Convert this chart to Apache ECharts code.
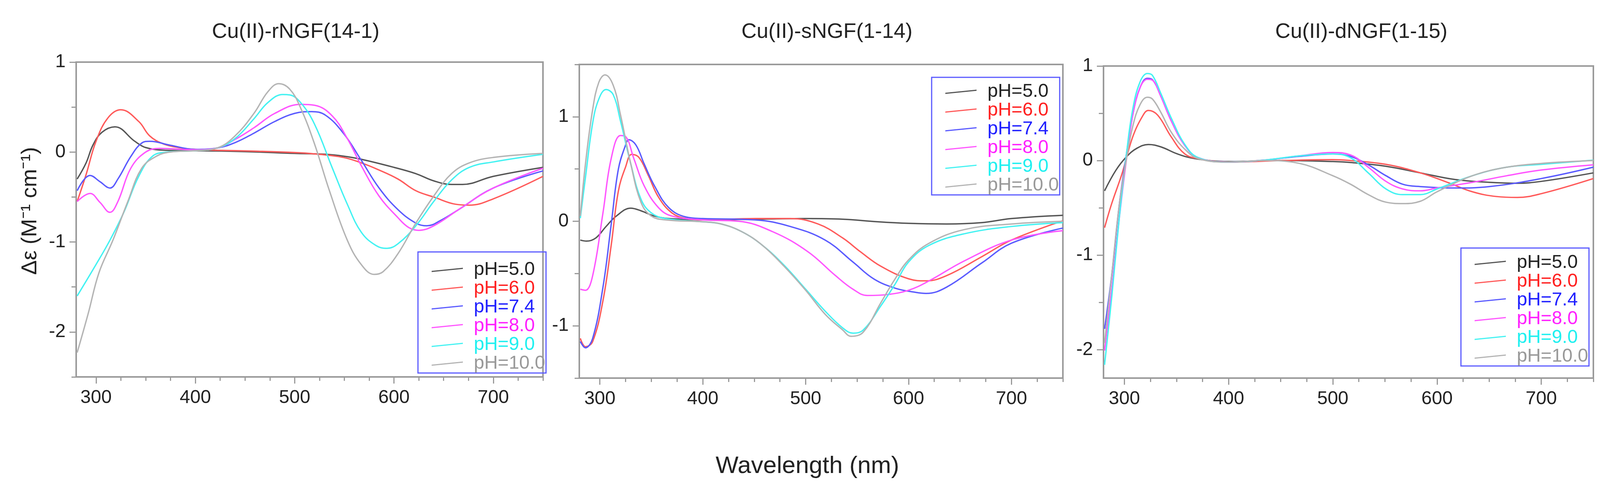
<!DOCTYPE html>
<html>
<head>
<meta charset="utf-8">
<script src="https://cdn.jsdelivr.net/npm/echarts@6.0.0/dist/echarts.min.js"></script>
<style>
html, body { margin: 0; padding: 0; background: #fff; }
#main { width: 4139px; height: 1275px; }
</style>
</head>
<body>
<div id="main"></div>
<script>
// 数据：三组 CD 光谱 (Δε vs 波长)
var phNames = ['pH=5.0', 'pH=6.0', 'pH=7.4', 'pH=8.0', 'pH=9.0', 'pH=10.0'];
var panelTitles = ['Cu(II)-rNGF(14-1)', 'Cu(II)-sNGF(1-14)', 'Cu(II)-dNGF(1-15)'];

var xLabelValues = [300, 400, 500, 600, 700];
var xTickValues = [300, 325, 350, 375, 400, 425, 450, 475, 500, 525, 550, 575, 600, 625, 650, 675, 700, 725, 750];

// rNGF(14-1)
var rNGF_50 = [[281,-0.30],[290,-0.12],[297,0.08],[306,0.22],[319,0.28],[339,0.12],[350,0.05],[370,0.02],[400,0.015],[450,0.005],[500,-0.015],[531,-0.025],[549,-0.045],[567,-0.08],[600,-0.17],[622,-0.24],[640,-0.32],[658,-0.36],[669,-0.36],[700,-0.27],[750,-0.17]];
var rNGF_60 = [[281,-0.55],[290,-0.25],[300,0.12],[312,0.38],[325,0.47],[343,0.34],[354,0.18],[368,0.09],[386,0.045],[400,0.03],[422,0.02],[460,0.01],[500,-0.005],[520,-0.02],[549,-0.06],[567,-0.12],[585,-0.20],[604,-0.30],[622,-0.43],[640,-0.50],[662,-0.58],[676,-0.59],[700,-0.52],[750,-0.27]];
var rNGF_74 = [[281,-0.43],[294,-0.26],[304,-0.33],[314,-0.40],[322,-0.30],[335,-0.05],[346,0.10],[354,0.12],[375,0.075],[400,0.03],[422,0.045],[440,0.105],[459,0.21],[480,0.34],[500,0.43],[517,0.45],[531,0.41],[549,0.21],[567,-0.09],[585,-0.40],[604,-0.64],[622,-0.79],[633,-0.82],[647,-0.76],[665,-0.64],[700,-0.40],[750,-0.21]];
var rNGF_80 = [[281,-0.55],[294,-0.46],[304,-0.56],[314,-0.67],[322,-0.55],[335,-0.18],[350,0.0],[364,0.04],[400,0.025],[422,0.045],[440,0.14],[459,0.27],[480,0.43],[506,0.53],[520,0.52],[538,0.40],[553,0.15],[567,-0.15],[585,-0.49],[604,-0.73],[615,-0.84],[625,-0.87],[640,-0.82],[665,-0.64],[700,-0.40],[750,-0.18]];
var rNGF_90 = [[281,-1.60],[300,-1.25],[314,-0.98],[328,-0.67],[343,-0.27],[357,-0.045],[372,0.0],[400,0.015],[422,0.045],[440,0.15],[459,0.37],[473,0.55],[488,0.64],[495,0.635],[506,0.55],[520,0.31],[538,-0.18],[553,-0.58],[567,-0.89],[582,-1.04],[593,-1.07],[604,-1.02],[622,-0.82],[640,-0.55],[658,-0.31],[676,-0.17],[700,-0.11],[750,-0.025]];
var rNGF_100 = [[281,-2.23],[292,-1.80],[303,-1.34],[317,-0.98],[332,-0.55],[346,-0.18],[361,-0.045],[375,0.0],[400,0.015],[422,0.045],[440,0.18],[459,0.43],[473,0.67],[484,0.76],[495,0.70],[506,0.49],[520,0.09],[535,-0.43],[553,-0.98],[567,-1.25],[580,-1.36],[589,-1.33],[604,-1.13],[622,-0.79],[640,-0.49],[658,-0.24],[676,-0.12],[700,-0.06],[750,-0.015]];

// sNGF(1-14)
var sNGF_50 = [[281,-0.18],[287,-0.19],[296,-0.16],[306,-0.05],[316,0.05],[330,0.125],[340,0.10],[353,0.05],[367,0.026],[400,0.013],[451,0.02],[500,0.026],[536,0.02],[570,-0.005],[600,-0.02],[637,-0.026],[671,-0.013],[700,0.026],[750,0.057]];
var sNGF_60 = [[281,-1.12],[286,-1.20],[293,-1.15],[303,-0.76],[311,-0.23],[318,0.29],[325,0.52],[331,0.64],[338,0.61],[347,0.44],[357,0.23],[370,0.08],[384,0.026],[400,0.013],[451,0.026],[485,0.026],[512,-0.026],[536,-0.16],[553,-0.29],[573,-0.43],[600,-0.55],[617,-0.57],[637,-0.52],[671,-0.34],[700,-0.18],[750,0.005]];
var sNGF_74 = [[281,-1.15],[286,-1.21],[293,-1.12],[303,-0.63],[311,-0.03],[318,0.50],[325,0.73],[328,0.78],[335,0.73],[343,0.55],[353,0.34],[367,0.13],[384,0.04],[400,0.026],[451,0.013],[485,-0.05],[519,-0.18],[546,-0.39],[566,-0.55],[587,-0.64],[607,-0.68],[617,-0.69],[637,-0.63],[671,-0.40],[700,-0.21],[750,-0.065]];
var sNGF_80 = [[281,-0.65],[286,-0.66],[293,-0.52],[303,0.08],[311,0.60],[320,0.82],[325,0.81],[333,0.60],[343,0.34],[357,0.13],[370,0.05],[400,0.013],[435,0.0],[468,-0.10],[502,-0.29],[529,-0.52],[546,-0.65],[560,-0.71],[580,-0.70],[600,-0.66],[620,-0.57],[654,-0.38],[700,-0.18],[750,-0.09]];
var sNGF_90 = [[281,0.03],[286,0.42],[293,0.94],[299,1.17],[306,1.26],[313,1.21],[320,0.96],[330,0.55],[340,0.21],[350,0.08],[364,0.026],[400,-0.005],[418,-0.026],[438,-0.10],[458,-0.23],[479,-0.42],[500,-0.65],[519,-0.86],[536,-1.02],[546,-1.07],[556,-1.04],[573,-0.81],[587,-0.60],[600,-0.39],[620,-0.23],[654,-0.12],[700,-0.05],[750,-0.013]];
var sNGF_100 = [[281,0.05],[286,0.55],[293,1.07],[299,1.33],[305,1.40],[313,1.30],[320,1.02],[330,0.55],[340,0.18],[350,0.05],[364,0.013],[400,-0.005],[418,-0.026],[438,-0.10],[458,-0.23],[479,-0.43],[500,-0.66],[519,-0.89],[536,-1.04],[544,-1.10],[556,-1.06],[573,-0.78],[587,-0.55],[600,-0.37],[620,-0.21],[654,-0.08],[700,-0.026],[750,0.0]];

// dNGF(1-15)
var dNGF_50 = [[281,-0.32],[292,-0.10],[302,0.04],[312,0.13],[323,0.17],[335,0.145],[351,0.07],[368,0.02],[400,-0.01],[451,0.0],[500,-0.01],[517,-0.02],[551,-0.06],[584,-0.13],[617,-0.20],[650,-0.23],[677,-0.24],[700,-0.22],[750,-0.13]];
var dNGF_60 = [[281,-0.71],[288,-0.45],[298,-0.13],[308,0.25],[318,0.48],[323,0.53],[332,0.48],[345,0.25],[358,0.07],[371,0.02],[400,-0.015],[451,0.0],[500,0.01],[517,0.0],[551,-0.04],[584,-0.13],[610,-0.23],[634,-0.33],[657,-0.38],[677,-0.39],[700,-0.35],[750,-0.19]];
var dNGF_74 = [[281,-1.78],[288,-1.20],[295,-0.48],[302,0.07],[308,0.48],[315,0.77],[322,0.87],[327,0.855],[335,0.68],[345,0.42],[358,0.16],[371,0.03],[400,-0.015],[434,0.005],[468,0.045],[500,0.07],[517,0.045],[534,-0.045],[551,-0.16],[567,-0.25],[584,-0.275],[617,-0.29],[650,-0.275],[700,-0.19],[750,-0.07]];
var dNGF_80 = [[281,-2.01],[288,-1.35],[295,-0.62],[302,0.015],[308,0.48],[315,0.77],[322,0.86],[327,0.85],[335,0.68],[345,0.42],[358,0.16],[371,0.03],[400,-0.015],[434,0.005],[468,0.05],[500,0.085],[517,0.06],[534,-0.07],[551,-0.22],[567,-0.30],[584,-0.32],[600,-0.29],[634,-0.23],[667,-0.16],[700,-0.10],[750,-0.045]];
var dNGF_90 = [[281,-2.16],[288,-1.43],[295,-0.62],[302,0.07],[308,0.54],[315,0.83],[322,0.92],[327,0.90],[335,0.71],[345,0.45],[358,0.17],[371,0.03],[400,-0.015],[434,0.005],[468,0.05],[500,0.07],[517,0.03],[534,-0.13],[551,-0.30],[567,-0.36],[584,-0.36],[600,-0.30],[634,-0.16],[667,-0.07],[700,-0.04],[750,0.005]];
var dNGF_100 = [[281,-1.93],[288,-1.20],[295,-0.48],[302,0.015],[308,0.36],[315,0.59],[322,0.67],[327,0.65],[335,0.51],[345,0.30],[358,0.12],[371,0.02],[400,-0.015],[434,0.0],[468,-0.03],[500,-0.16],[517,-0.25],[534,-0.36],[551,-0.44],[567,-0.455],[584,-0.43],[600,-0.33],[634,-0.16],[667,-0.07],[700,-0.03],[750,0.0]];

var yRanges = [[-2.5, 1], [-1.5, 1.5], [-2.3, 1]];
var yLabelValues = [[-2, -1, 0, 1], [-1, 0, 1], [-2, -1, 0, 1]];
var yTickValues = [
    [-2.5, -2, -1.5, -1, -0.5, 0, 0.5, 1],
    [-1.5, -1, -0.5, 0, 0.5, 1, 1.5],
    [-2, -1.5, -1, -0.5, 0, 0.5, 1]
];

var panelData = [
    [rNGF_50, rNGF_60, rNGF_74, rNGF_80, rNGF_90, rNGF_100],
    [sNGF_50, sNGF_60, sNGF_74, sNGF_80, sNGF_90, sNGF_100],
    [dNGF_50, dNGF_60, dNGF_74, dNGF_80, dNGF_90, dNGF_100]
];

// 样式
var FONT = '"Liberation Sans", Arial, Helvetica, sans-serif';
var lineColors = ['#555555', '#ff5a5a', '#5a5aff', '#ff55ff', '#44f2f2', '#b4b4b4'];
var textColors = ['#222222', '#ff2020', '#2020ff', '#ff20ff', '#20f0f0', '#999999'];
var axisGray = '#9a9a9a';

var grids = [
    {left: 195, top: 159, width: 1195, height: 806},
    {left: 1483, top: 165, width: 1238, height: 803},
    {left: 2825, top: 169, width: 1254, height: 799}
];
var legendPos = [
    {left: 1070, top: 645, padding: [22, 2, 0, 35]},
    {left: 2385, top: 198, padding: [13, 2, 0, 35]},
    {left: 3740, top: 635, padding: [14, 2, 0, 35]}
];
var titleCenters = [752, 2112, 3480];

var myChart = echarts.init(document.getElementById('main'));

var option = {
    animation: false,
    backgroundColor: '#ffffff',
    textStyle: {fontFamily: FONT},
    title: [],
    grid: [],
    xAxis: [],
    yAxis: [],
    legend: [],
    series: [],
    graphic: [
        {
            type: 'text',
            x: 78, y: 540,
            rotation: Math.PI / 2,
            style: {
                text: 'Δε (M⁻¹ cm⁻¹)',
                fontSize: 56, fontFamily: FONT, fill: '#222',
                textAlign: 'center', textVerticalAlign: 'middle'
            }
        },
        {
            type: 'text',
            x: 2067, y: 1194,
            style: {
                text: 'Wavelength (nm)',
                fontSize: 62, fontFamily: FONT, fill: '#222',
                textAlign: 'center', textVerticalAlign: 'middle'
            }
        }
    ]
};

var legendItems = phNames.map(function (n, k) {
    return {name: n, textStyle: {color: textColors[k]}};
});

for (var i = 0; i < 3; i++) {
    var g = grids[i];
    option.grid.push({
        left: g.left, top: g.top, width: g.width, height: g.height,
        show: true, borderColor: axisGray, borderWidth: 4, backgroundColor: 'transparent'
    });
    option.title.push({
        text: panelTitles[i],
        left: titleCenters[i], top: 50,
        textAlign: 'center',
        textStyle: {fontSize: 54, fontWeight: 'normal', color: '#222', fontFamily: FONT}
    });
    // 主刻度 + 标签
    option.xAxis.push({
        type: 'value', gridIndex: i, min: 280, max: 750, position: 'bottom',
        axisLine: {onZero: false, lineStyle: {color: axisGray, width: 4}},
        axisTick: {customValues: xLabelValues, length: 17, lineStyle: {color: axisGray, width: 3}},
        axisLabel: {customValues: xLabelValues, fontSize: 48, margin: 30, color: '#222', fontFamily: FONT},
        splitLine: {show: false}
    });
    // 次刻度
    option.xAxis.push({
        type: 'value', gridIndex: i, min: 280, max: 750, position: 'bottom',
        axisLine: {show: false, onZero: false},
        axisTick: {customValues: xTickValues, length: 10, lineStyle: {color: axisGray, width: 3}},
        axisLabel: {show: false},
        splitLine: {show: false}
    });
    option.yAxis.push({
        type: 'value', gridIndex: i, min: yRanges[i][0], max: yRanges[i][1], position: 'left',
        axisLine: {show: true, onZero: false, lineStyle: {color: axisGray, width: 4}},
        axisTick: {show: true, customValues: yLabelValues[i], length: 17, lineStyle: {color: axisGray, width: 3}},
        axisLabel: {customValues: yLabelValues[i], fontSize: 48, margin: 27, color: '#222', fontFamily: FONT},
        splitLine: {show: false}
    });
    option.yAxis.push({
        type: 'value', gridIndex: i, min: yRanges[i][0], max: yRanges[i][1], position: 'left',
        axisLine: {show: false, onZero: false},
        axisTick: {show: true, customValues: yTickValues[i], length: 12, lineStyle: {color: axisGray, width: 3}},
        axisLabel: {show: false},
        splitLine: {show: false}
    });
    option.legend.push({
        orient: 'vertical',
        left: legendPos[i].left, top: legendPos[i].top,
        padding: legendPos[i].padding,
        borderColor: '#5a5aff', borderWidth: 3,
        itemGap: 0, itemWidth: 80, itemHeight: 11,
        icon: 'path://M0,11 L80,3 L80,6 L0,14 Z',
        textStyle: {fontSize: 48, lineHeight: 48, fontFamily: FONT, padding: [0, 0, 0, 23]},
        data: legendItems
    });
    for (var k = 0; k < phNames.length; k++) {
        option.series.push({
            name: phNames[k],
            type: 'line',
            xAxisIndex: 2 * i,
            yAxisIndex: 2 * i,
            data: panelData[i][k],
            smooth: 0.4,
            showSymbol: false,
            color: lineColors[k],
            lineStyle: {width: 3.5, color: lineColors[k]},
            emphasis: {disabled: true}
        });
    }
}

myChart.setOption(option);
</script>
</body>
</html>
